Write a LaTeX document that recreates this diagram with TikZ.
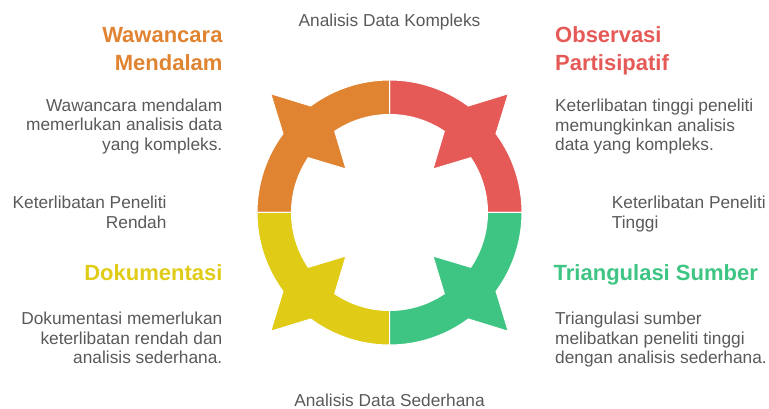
\documentclass[tikz,border=0pt]{standalone}
\usepackage{fontspec}
\setmainfont{Liberation Sans}
\definecolor{orng}{HTML}{E08432}
\definecolor{redc}{HTML}{E55A57}
\definecolor{yell}{HTML}{E0CB17}
\definecolor{grn}{HTML}{3EC583}
\definecolor{txtgray}{HTML}{595959}
\begin{document}
\begin{tikzpicture}[x=1pt,y=-1pt,
  desc/.style={font=\fontsize{17.3}{19.5}\selectfont, text=txtgray, inner sep=0pt},
  ttl/.style={font=\bfseries\fontsize{22}{28}\selectfont, inner sep=0pt},
  seg/.style={draw=white, line width=1pt, line join=miter}]
\useasboundingbox (0,0) rectangle (769,409);
\begin{scope}[shift={(389.5,212.5)}, y=1pt]
  \foreach \m/\c in {45/redc,135/orng,225/yell,315/grn}{
    \path[seg, fill=\c]
      ({\m-45}:132.5) arc[start angle={\m-45}, end angle={\m-8.5}, radius=132.5]
      -- (\m:168) -- ({\m+8.5}:132.5)
      arc[start angle={\m+8.5}, end angle={\m+45}, radius=132.5]
      -- ({\m+45}:98) arc[start angle={\m+45}, end angle={\m+11}, radius=98]
      -- (\m:61.5) -- ({\m-11}:98)
      arc[start angle={\m-11}, end angle={\m-45}, radius=98] -- cycle;
  }
\end{scope}
\node[ttl, text=orng, anchor=base east, align=right] (wt) at (222.7,71) {Wawancara\\Mendalam};
\node[desc, anchor=base east, align=right] (wd) at (222.5,150.5) {Wawancara mendalam\\memerlukan analisis data\\yang kompleks.};
\node[ttl, text=redc, anchor=base west, align=left] (ot) at (555,71) {Observasi\\Partisipatif};
\node[desc, anchor=base west, align=left] (od) at (555,151) {Keterlibatan tinggi peneliti\\memungkinkan analisis\\data yang kompleks.};
\node[desc, anchor=base east, align=right] (kr) at (166.7,228.3) {Keterlibatan Peneliti\\Rendah};
\node[desc, anchor=base west, align=left] (kt) at (611.7,228.3) {Keterlibatan Peneliti\\Tinggi};
\node[ttl, text=yell, anchor=base east] (dt) at (222.7,280) {Dokumentasi};
\node[desc, anchor=base east, align=right] (dd) at (222.5,363.5) {Dokumentasi memerlukan\\keterlibatan rendah dan\\analisis sederhana.};
\node[ttl, text=grn, anchor=base west] (tt) at (553.5,280) {Triangulasi Sumber};
\node[desc, anchor=base west, align=left] (td) at (555,363.5) {Triangulasi sumber\\melibatkan peneliti tinggi\\dengan analisis sederhana.};
\node[desc, anchor=base] (top) at (389.5,26.5) {Analisis Data Kompleks};
\node[desc, anchor=base] (bot) at (389.5,406) {Analisis Data Sederhana};
\end{tikzpicture}
\end{document}
